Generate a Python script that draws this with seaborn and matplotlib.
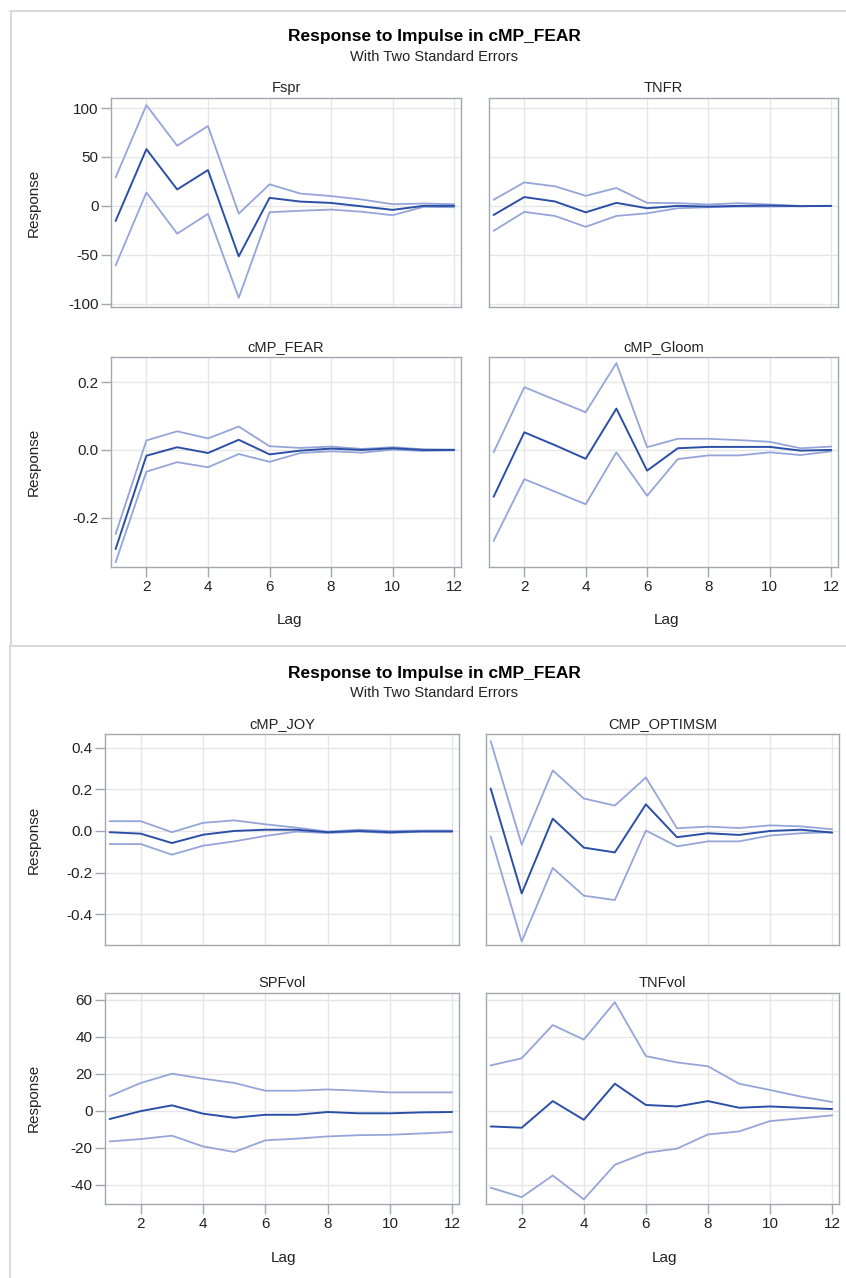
import numpy as np
import pandas as pd
import matplotlib
matplotlib.use("Agg")
import matplotlib.pyplot as plt
from matplotlib.lines import Line2D
import seaborn as sns


LAGS = list(range(1, 13))

# impulse responses: (estimate, upper, lower)
FSPR = [-15.4, 58, 16.8, 36.6, -51.6, 8.2, 4.4, 3, -0.5, -4.1, 0, 0]
FSPR_UP = [29, 103, 61.5, 81.7, -7.9, 22, 12.6, 10, 6.5, 1.7, 2.4, 1.7]
FSPR_LO = [-61, 13.7, -28.4, -8.2, -94, -6.5, -5, -3.8, -6, -9.6, -1, -1.4]

TNFR = [-9.3, 9, 4.5, -6.6, 3.1, -2.4, 0, -0.7, 0, 0.3, -0.3, 0]
TNFR_UP = [6.2, 24, 20, 10.3, 18.3, 3.1, 2.8, 1.4, 2.8, 1.4, 0, 0]
TNFR_LO = [-25.5, -6.2, -10.3, -21.4, -10.3, -7.6, -2.4, -1.4, -0.7, -0.7, -0.3, 0]

FEAR = [-0.292, -0.017, 0.008, -0.009, 0.030, -0.013, -0.002, 0.004, 0, 0.005, 0, 0]
FEAR_UP = [-0.248, 0.028, 0.055, 0.034, 0.069, 0.011, 0.006, 0.010, 0.003, 0.008, 0.002, 0.001]
FEAR_LO = [-0.331, -0.064, -0.036, -0.051, -0.012, -0.035, -0.009, -0.004, -0.008, 0.001, -0.003, -0.001]

GLOOM = [-0.138, 0.052, 0.014, -0.026, 0.122, -0.061, 0.005, 0.009, 0.009, 0.009, -0.002, 0]
GLOOM_UP = [-0.007, 0.185, 0.148, 0.111, 0.256, 0.008, 0.033, 0.033, 0.029, 0.024, 0.005, 0.010]
GLOOM_LO = [-0.268, -0.086, -0.123, -0.160, -0.007, -0.135, -0.027, -0.016, -0.016, -0.007, -0.015, -0.004]

JOY = [-0.006, -0.013, -0.058, -0.018, 0, 0.006, 0.006, -0.006, 0, -0.006, -0.002, -0.002]
JOY_UP = [0.047, 0.047, -0.006, 0.039, 0.051, 0.032, 0.016, -0.003, 0.006, 0, 0.002, 0.002]
JOY_LO = [-0.063, -0.063, -0.114, -0.071, -0.050, -0.024, -0.003, -0.010, -0.003, -0.010, -0.003, -0.003]

OPTIM = [0.204, -0.300, 0.059, -0.080, -0.103, 0.128, -0.030, -0.011, -0.019, 0, 0.006, -0.008]
OPTIM_UP = [0.432, -0.066, 0.291, 0.156, 0.122, 0.257, 0.013, 0.021, 0.014, 0.027, 0.022, 0.008]
OPTIM_LO = [-0.026, -0.531, -0.178, -0.311, -0.332, 0.002, -0.074, -0.050, -0.050, -0.022, -0.011, -0.006]

SPFVOL = [-4.5, -0.2, 2.9, -1.6, -3.8, -2.2, -2.2, -0.7, -1.4, -1.4, -0.9, -0.7]
SPFVOL_UP = [7.9, 15, 20, 17.3, 15, 10.8, 10.8, 11.5, 10.8, 9.9, 9.9, 9.9]
SPFVOL_LO = [-16.6, -15.3, -13.5, -19.3, -22.3, -16, -15.1, -13.9, -13.2, -13, -12.3, -11.5]

TNFVOL = [-8.5, -9.2, 5.2, -4.9, 14.6, 3.1, 2.3, 5.2, 1.6, 2.3, 1.6, 0.9]
TNFVOL_UP = [24.5, 28.3, 46.3, 38.4, 58.6, 29.5, 26.1, 24, 14.6, 11.2, 7.6, 4.7]
TNFVOL_LO = [-41.6, -46.7, -35, -47.9, -29.2, -22.7, -20.5, -12.8, -11.2, -5.6, -4.1, -2.5]

PANELS = {
    "Fspr": (FSPR, FSPR_UP, FSPR_LO),
    "TNFR": (TNFR, TNFR_UP, TNFR_LO),
    "cMP_FEAR": (FEAR, FEAR_UP, FEAR_LO),
    "cMP_Gloom": (GLOOM, GLOOM_UP, GLOOM_LO),
    "cMP_JOY": (JOY, JOY_UP, JOY_LO),
    "CMP_OPTIMSM": (OPTIM, OPTIM_UP, OPTIM_LO),
    "SPFvol": (SPFVOL, SPFVOL_UP, SPFVOL_LO),
    "TNFvol": (TNFVOL, TNFVOL_UP, TNFVOL_LO),
}

W, H = 846, 1278
MAIN_COLOR = "#2B4FA6"
BAND_COLOR = "#95A5D9"
FRAME = "#A3A8B0"
FONT = ["Liberation Sans", "DejaVu Sans"]


def long_frame():
    rows = []
    for name, (est, up, lo) in PANELS.items():
        for kind, vals in (("est", est), ("up", up), ("lo", lo)):
            for lag, v in zip(LAGS, vals):
                rows.append({"panel": name, "kind": kind, "lag": lag, "value": v})
    return pd.DataFrame(rows)


def px_axes(fig, x0, y0, x1, y1):
    # pixel box (top-left origin) -> figure coords
    return fig.add_axes([x0 / W, 1 - y1 / H, (x1 - x0) / W, (y1 - y0) / H])


sns.set_style("whitegrid")
plt.rcParams["font.family"] = FONT
plt.rcParams["axes.unicode_minus"] = False

df = long_frame()
fig = plt.figure(figsize=(W / 100, H / 100), dpi=100)

# (panel, box, ylim, yticks, left, bottom)
layout = [
    ("Fspr", (111, 98, 461, 307), (-103.4, 110.3), [-100, -50, 0, 50, 100], True, False),
    ("TNFR", (489, 98, 838, 307), (-103.4, 110.3), [-100, -50, 0, 50, 100], False, False),
    ("cMP_FEAR", (111, 357, 461, 567), (-0.345, 0.274), [-0.2, 0.0, 0.2], True, True),
    ("cMP_Gloom", (489, 357, 838, 567), (-0.345, 0.274), [-0.2, 0.0, 0.2], False, True),
    ("cMP_JOY", (105, 734, 459, 945), (-0.548, 0.466), [-0.4, -0.2, 0.0, 0.2, 0.4], True, False),
    ("CMP_OPTIMSM", (486, 734, 839, 945), (-0.548, 0.466), [-0.4, -0.2, 0.0, 0.2, 0.4], False, False),
    ("SPFvol", (105, 993, 459, 1204), (-50.4, 63.6), [-40, -20, 0, 20, 40, 60], True, True),
    ("TNFvol", (486, 993, 839, 1204), (-50.4, 63.6), [-40, -20, 0, 20, 40, 60], False, True),
]

for name, box, ylim, yticks, left, bottom in layout:
    ax = px_axes(fig, *box)
    sub = df[df["panel"] == name]
    for kind, color, lw in (("up", BAND_COLOR, 1.3), ("lo", BAND_COLOR, 1.3), ("est", MAIN_COLOR, 1.4)):
        sns.lineplot(data=sub[sub["kind"] == kind], x="lag", y="value", color=color,
                     linewidth=lw, ax=ax, legend=False)
    ax.set_xlim(0.85, 12.22)
    ax.set_ylim(*ylim)
    ax.set_xticks([2, 4, 6, 8, 10, 12])
    ax.set_yticks(yticks)
    ax.grid(True, color="#E6E6E6", linewidth=1.0)
    for sp in ax.spines.values():
        sp.set_color(FRAME)
        sp.set_linewidth(1.0)
    ax.set_xlabel("")
    ax.set_ylabel("")
    ax.set_title(name, fontsize=10.5, color="#222222", pad=4)
    ax.tick_params(axis="both", which="both", direction="out", length=7, width=1,
                   color=FRAME, labelsize=11, labelcolor="#222222", pad=2)
    ax.tick_params(axis="x", bottom=bottom, labelbottom=bottom)
    ax.tick_params(axis="y", left=left, labelleft=left)
    if name in ("cMP_FEAR", "cMP_Gloom", "cMP_JOY", "CMP_OPTIMSM"):
        ax.yaxis.set_major_formatter(matplotlib.ticker.FormatStrFormatter("%.1f"))

# titles
for ty, sy in ((37, 57), (673, 693)):
    fig.text(434 / W, 1 - ty / H, "Response to Impulse in cMP_FEAR", ha="center", va="center",
             fontsize=12.5, fontweight="bold", color="black")
    fig.text(434 / W, 1 - sy / H, "With Two Standard Errors", ha="center", va="center",
             fontsize=10.5, color="#222222")

# axis labels
for cy in (203, 462, 840, 1098):
    fig.text(34 / W, 1 - cy / H, "Response", rotation=90, ha="center", va="center",
             fontsize=11, color="#222222")
for cx, cy in ((289, 620), (666, 620), (283, 1258), (664, 1258)):
    fig.text(cx / W, 1 - cy / H, "Lag", ha="center", va="center", fontsize=11, color="#222222")

# panel borders
border = "#D9D9D9"
fig.add_artist(Line2D([10 / W, 1], [1 - 10.5 / H] * 2, color=border, lw=1.5))
fig.add_artist(Line2D([11 / W] * 2, [1 - 10.5 / H, 1 - 646 / H], color=border, lw=1.5))
fig.add_artist(Line2D([10 / W, 1], [1 - 646 / H] * 2, color=border, lw=1.5))
fig.add_artist(Line2D([10 / W] * 2, [1 - 646 / H, 0], color=border, lw=1.5))

fig.savefig("out.png", dpi=100)
